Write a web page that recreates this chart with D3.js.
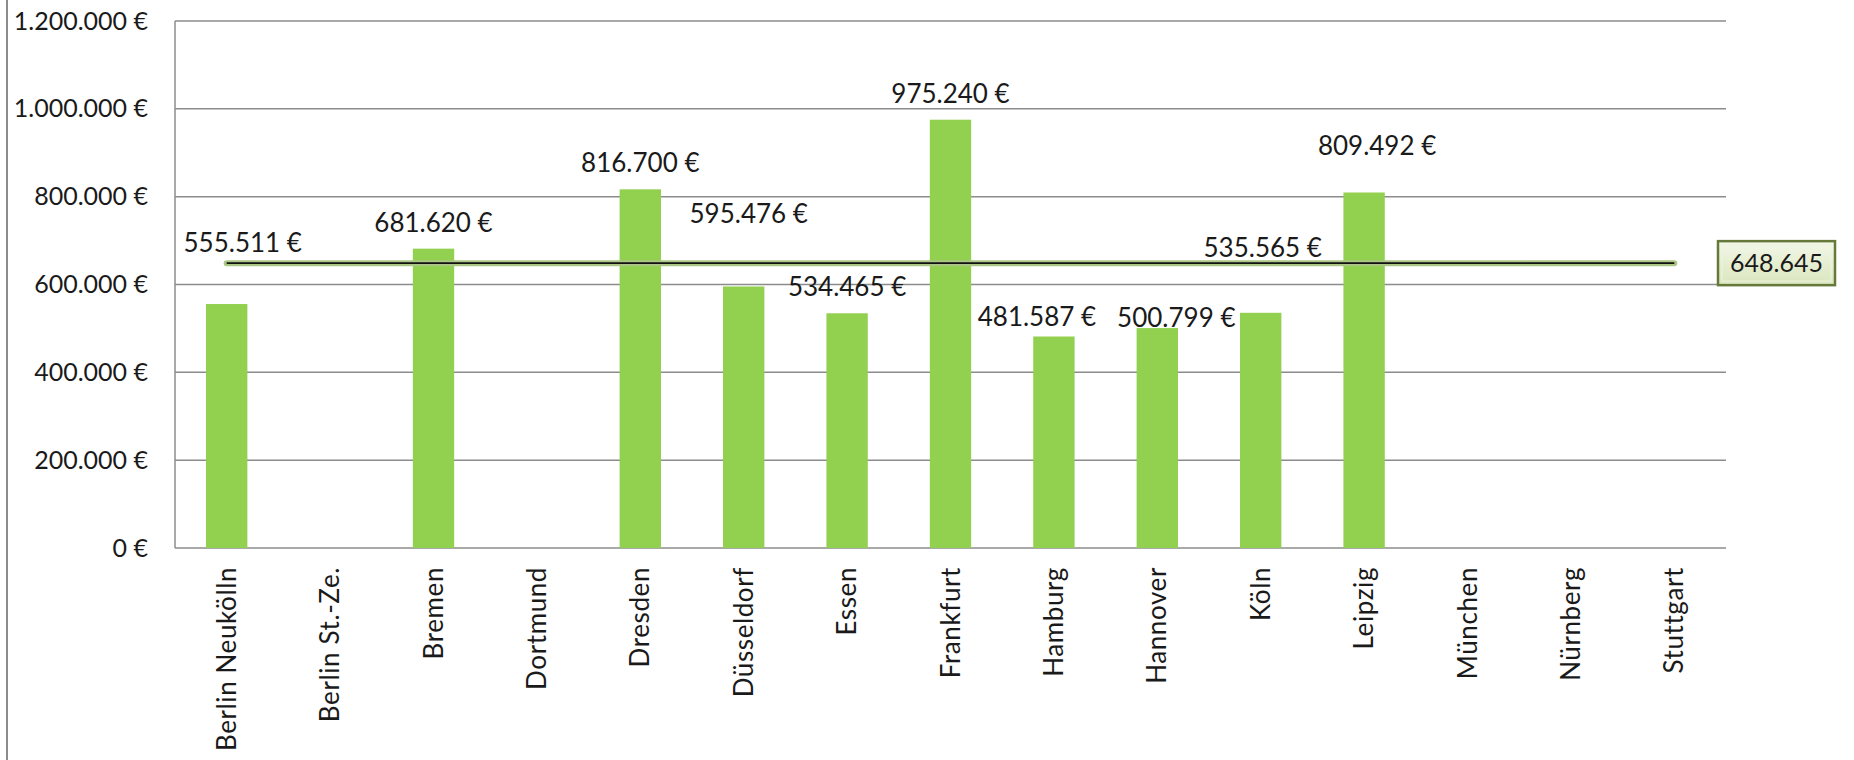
<!DOCTYPE html>
<meta charset="utf-8">
<style>
  body { margin: 0; background: #fff; }
  text { font-family: Lato, "Open Sans", sans-serif; fill: #1a1a1a; }
</style>

<!-- D3 laden -->
<script src="https://d3js.org/d3.v7.min.js"></script>

<div id="chart"></div>

<script>
// Daten
var standorte = ["Berlin Neukölln", "Berlin St.-Ze.", "Bremen", "Dortmund", "Dresden",
                 "Düsseldorf", "Essen", "Frankfurt", "Hamburg", "Hannover",
                 "Köln", "Leipzig", "München", "Nürnberg", "Stuttgart"];
var werte = [555511, null, 681620, null, 816700,
             595476, 534465, 975240, 481587, 500799,
             535565, 809492, null, null, null];
var durchschnitt = 648645;
var yTicks = [0, 200000, 400000, 600000, 800000, 1000000, 1200000];

// Verschiebung der Datenbeschriftungen (dx, dy in Pixel, relativ zur Standardposition)
var labelNudge = [[16, -35], [0, 0], [0, 0], [0, 0], [0, 0],
                  [5, -47], [0, 0], [0, 0], [-17, 6], [19, 16],
                  [2, -39], [13, -21], [0, 0], [0, 0], [0, 0]];

// Abmessungen
var W = 1854, H = 760;
var margin = {top: 21, right: 128, bottom: 212, left: 175};
var width = W - margin.left - margin.right,
    height = H - margin.top - margin.bottom;

var de = d3.formatLocale({decimal: ",", thousands: ".", grouping: [3], currency: ["", " €"]});
var fmt = de.format(",.0f");

var svg = d3.select("#chart").append("svg")
    .attr("width", W)
    .attr("height", H);

// linker Rahmen
svg.append("line")
    .attr("x1", 7).attr("x2", 7)
    .attr("y1", 0).attr("y2", H)
    .attr("stroke", "#8c8c8c").attr("stroke-width", 2);

var g = svg.append("g")
    .attr("transform", "translate(" + margin.left + "," + margin.top + ")");

var x = d3.scaleBand()
    .domain(standorte)
    .range([0, width])
    .paddingInner(0.6)
    .paddingOuter(0.3);

var y = d3.scaleLinear()
    .domain([0, 1200000])
    .range([height, 0]);

// Gitternetz
g.append("g")
    .selectAll("line")
    .data(yTicks)
    .enter().append("line")
    .attr("x1", 0).attr("x2", width)
    .attr("y1", function(d) { return y(d); })
    .attr("y2", function(d) { return y(d); })
    .attr("stroke", "#8c8c8c").attr("stroke-width", 1.5);

g.append("line")
    .attr("x1", 0).attr("x2", 0)
    .attr("y1", 0).attr("y2", height)
    .attr("stroke", "#8c8c8c").attr("stroke-width", 1.5);

// y-Achse
var yAxis = g.append("g")
    .call(d3.axisLeft(y).tickValues(yTicks).tickSize(0).tickPadding(27)
        .tickFormat(function(d) { return fmt(d) + " €"; }));
yAxis.select(".domain").remove();
yAxis.selectAll("text")
    .attr("font-size", 25)
    .attr("font-family", null)
    .attr("fill", null);

// x-Achse
var xAxis = g.append("g")
    .attr("transform", "translate(0," + height + ")")
    .call(d3.axisBottom(x).tickSize(0));
xAxis.select(".domain").remove();
xAxis.selectAll("text")
    .attr("font-size", 26)
    .attr("letter-spacing", 0.6)
    .attr("font-family", null)
    .attr("fill", null)
    .attr("transform", "rotate(-90)")
    .attr("text-anchor", "end")
    .attr("x", -19)
    .attr("y", 0)
    .attr("dy", "0.35em");

// Balken
var daten = standorte.map(function(s, i) { return {name: s, wert: werte[i], nudge: labelNudge[i]}; })
    .filter(function(d) { return d.wert != null; });

g.append("g")
    .selectAll("rect")
    .data(daten)
    .enter().append("rect")
    .attr("x", function(d) { return x(d.name); })
    .attr("y", function(d) { return y(d.wert); })
    .attr("width", x.bandwidth())
    .attr("height", function(d) { return height - y(d.wert); })
    .attr("fill", "#92d050");

// Durchschnittslinie
var xA = x(standorte[0]) + x.bandwidth() / 2,
    xB = x(standorte[standorte.length - 1]) + x.bandwidth() / 2;

g.append("line")
    .attr("x1", xA).attr("x2", xB)
    .attr("y1", y(durchschnitt)).attr("y2", y(durchschnitt))
    .attr("stroke", "#aac584").attr("stroke-width", 6)
    .attr("stroke-linecap", "round");
g.append("line")
    .attr("x1", xA).attr("x2", xB)
    .attr("y1", y(durchschnitt)).attr("y2", y(durchschnitt))
    .attr("stroke", "#111").attr("stroke-width", 1.8);

// Datenbeschriftungen
g.append("g")
    .selectAll("text")
    .data(daten)
    .enter().append("text")
    .attr("x", function(d) { return x(d.name) + x.bandwidth() / 2 + d.nudge[0]; })
    .attr("y", function(d) { return y(d.wert) - 26 + d.nudge[1]; })
    .attr("dy", "0.35em")
    .attr("text-anchor", "middle")
    .attr("font-size", 26)
    .text(function(d) { return fmt(d.wert) + " €"; });

// Durchschnittswert-Box
var defs = svg.append("defs");
var grad = defs.append("linearGradient")
    .attr("id", "boxGrad")
    .attr("x1", 0).attr("y1", 0).attr("x2", 0).attr("y2", 1);
grad.append("stop").attr("offset", "0%").attr("stop-color", "#f3f7e8");
grad.append("stop").attr("offset", "100%").attr("stop-color", "#d9e6bd");

var bx = width - 8, bw = 117, bh = 44;
var box = g.append("g")
    .attr("transform", "translate(" + bx + "," + (y(durchschnitt) - 22) + ")");
box.append("rect")
    .attr("width", bw).attr("height", bh)
    .attr("fill", "url(#boxGrad)")
    .attr("stroke", "#66783a").attr("stroke-width", 2.5);
box.append("rect")
    .attr("x", 4).attr("y", 4)
    .attr("width", bw - 8).attr("height", bh - 8)
    .attr("fill", "none")
    .attr("stroke", "#eef3e0").attr("stroke-width", 1);
box.append("text")
    .attr("x", bw / 2).attr("y", bh / 2)
    .attr("dy", "0.35em")
    .attr("text-anchor", "middle")
    .attr("font-size", 25)
    .text(fmt(durchschnitt));
</script>
